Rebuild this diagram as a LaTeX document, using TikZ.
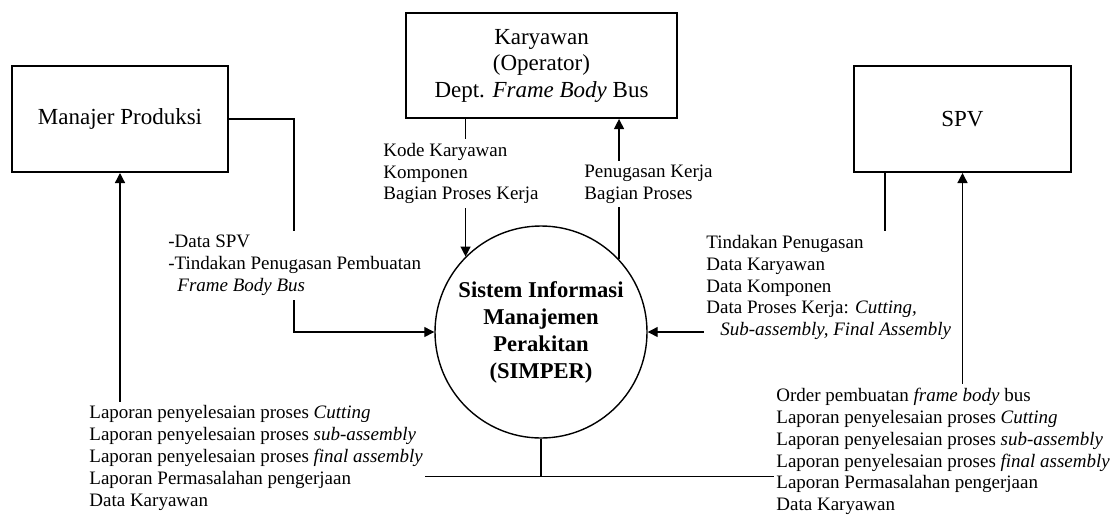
\documentclass[tikz,border=0pt]{standalone}
\usepackage{fontspec}
\setmainfont{Liberation Serif}
\usetikzlibrary{arrows.meta,calc}
\begin{document}
\begin{tikzpicture}[x=0.5pt,y=-0.5pt,
  ent/.style={draw,line width=1pt,inner sep=2pt,align=center,font=\fontsize{11.5}{13.25}\selectfont},
  proc/.style={draw,circle,line width=0.7pt,minimum size=106pt,inner sep=0pt,align=center,font=\fontsize{11.3}{13.5}\selectfont\bfseries},
  lbl/.style={fill=white,inner xsep=1pt,inner ysep=2pt,align=left,anchor=west,font=\fontsize{9.5}{10.9}\selectfont},
  flow/.style={line width=0.65pt,-{Triangle[length=5pt,width=5pt]}},
]
\useasboundingbox (0,0) rectangle (1117,520);

\node[ent,minimum width=108pt,minimum height=53pt] (man) at (120,119) {Manajer Produksi};
\node[ent,minimum width=135.5pt,minimum height=52.5pt] (kar) at (541.5,65.5) {Karyawan\\(Operator)\\Dept. \textit{Frame Body} Bus};
\node[ent,minimum width=108.5pt,minimum height=53pt] (spv) at (962.5,119) {SPV};
\node[proc] (sim) at (541,332) {Sistem Informasi\\Manajemen\\Perakitan\\(SIMPER)};

\draw[flow] (man.east) -- ++(65,0) |- (sim.west);
\draw[flow] (kar.south -| sim.135) -- (sim.135);
\draw[flow] (sim.43) -- (sim.43 |- kar.south);
\draw[flow] ([xshift=16pt]spv.south west) |- (sim.east);
\draw[flow] (sim.south) -- ++(0,38) -| (man.south);
\draw[flow] (sim.south) -- ++(0,38) -| (spv.south);

\node[lbl] (l1) at (381,173.5) {Kode Karyawan\\Komponen\\Bagian Proses Kerja};
\node[lbl] (l2) at (582,184) {Penugasan Kerja\\Bagian Proses};
\node[lbl] (l3) at (166,265.5) {-Data SPV\\-Tindakan Penugasan Pembuatan\\\hspace*{4.5pt}\textit{Frame Body Bus}};
\node[lbl] (l4) at (704,287.5) {Tindakan Penugasan\\Data Karyawan\\Data Komponen\\Data Proses Kerja: \textit{Cutting,}\\\hspace*{7pt}\textit{Sub-assembly, Final Assembly}};
\node[lbl] (l5) at (87,458) {Laporan penyelesaian proses \textit{Cutting}\\Laporan penyelesaian proses \textit{sub-assembly}\\Laporan penyelesaian proses \textit{final assembly}\\Laporan Permasalahan pengerjaan\\Data Karyawan};
\node[lbl] (l6) at (774,451.5) {Order pembuatan \textit{frame body} bus\\Laporan penyelesaian proses \textit{Cutting}\\Laporan penyelesaian proses \textit{sub-assembly}\\Laporan penyelesaian proses \textit{final assembly}\\Laporan Permasalahan pengerjaan\\Data Karyawan};
\end{tikzpicture}
\end{document}
